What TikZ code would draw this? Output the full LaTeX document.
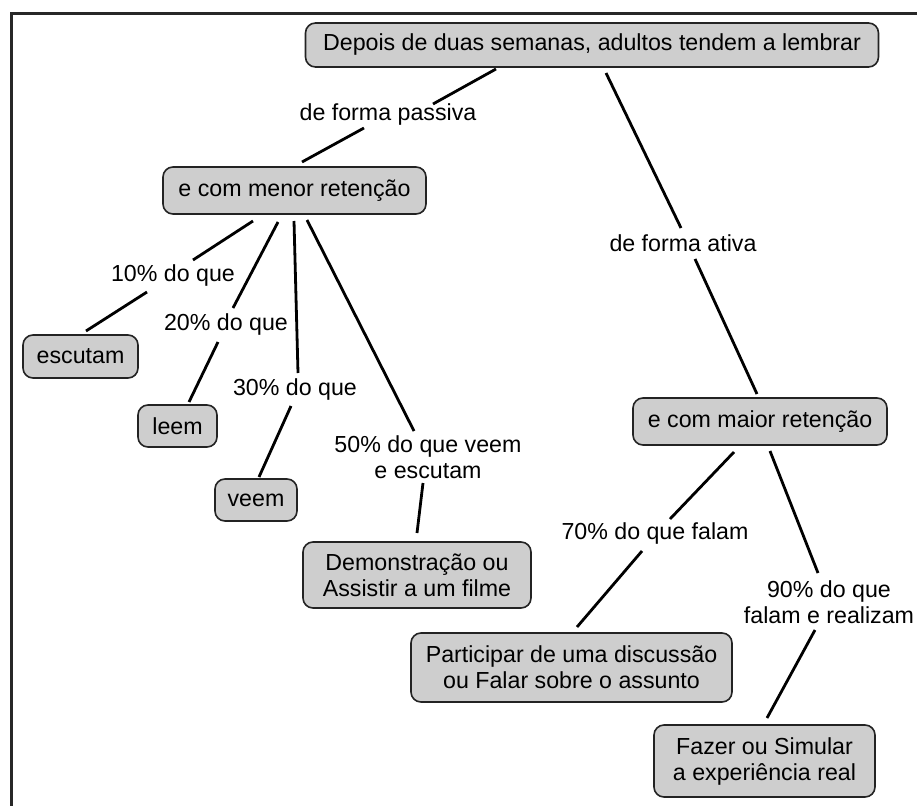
\documentclass[tikz,border=0pt]{standalone}
\usepackage{fontspec}
\setmainfont{Liberation Sans}
\usetikzlibrary{calc}
\definecolor{boxfill}{RGB}{206,206,206}
\definecolor{boxline}{RGB}{35,35,35}
\definecolor{framecol}{RGB}{40,40,40}
\newcommand\diagfont{\fontsize{23.2}{26}\selectfont}
\tikzset{
  box/.style={draw=boxline, line width=1.6pt, fill=boxfill, rounded corners=10pt,
    align=center, inner sep=0pt, font=\diagfont},
  lab/.style={align=center, inner sep=0pt, font=\diagfont},
  conn/.style={line width=2.8pt, black},
  frameline/.style={line width=3.2pt, framecol}
}
\begin{document}
\begin{tikzpicture}[x=1pt,y=-1pt]
\useasboundingbox (0,0) rectangle (917,805);
% frame
\coordinate (fbl) at (11.7,806);
\coordinate (ftl) at (11.7,13.3);
\coordinate (ftr) at (918,13.3);
\draw[frameline] (fbl) -- (ftl) -- (ftr);

% boxes
\node[box, minimum width=573pt, minimum height=44pt] (top) at (592,45) {Depois de duas semanas, adultos tendem a lembrar};
\node[box, minimum width=263pt, minimum height=47pt] (menor) at (294.5,190.5) {e com menor retenção};
\node[box, minimum width=254pt, minimum height=47pt] (maior) at (760,421.5) {e com maior retenção};
\node[box, minimum width=115pt, minimum height=43pt] (escutam) at (80.5,356.5) {escutam};
\node[box, minimum width=79pt, minimum height=42pt] (leem) at (177.5,426) {leem};
\node[box, minimum width=82pt, minimum height=42pt] (veem) at (256,500) {veem};
\node[box, minimum width=228pt, minimum height=66pt] (demo) at (417,575) {Demonstração ou\\Assistir a um filme};
\node[box, minimum width=321pt, minimum height=69pt] (part) at (571.5,667.5) {Participar de uma discussão\\ou Falar sobre o assunto};
\node[box, minimum width=221pt, minimum height=72pt] (fazer) at (764.5,761) {Fazer ou Simular\\a experiência real};

% labels
\node[lab] (passiva) at (388,115) {de forma passiva};
\node[lab] (ativa) at (683,243) {de forma ativa};
\node[lab] (p10) at (173,275) {10\% do que};
\node[lab] (p20) at (226,324) {20\% do que};
\node[lab] (p30) at (295,389) {30\% do que};
\node[lab] (p50) at (428,457) {50\% do que veem\\e escutam};
\node[lab] (p70) at (655,533) {70\% do que falam};
\node[lab] (p90) at (829,602) {90\% do que\\falam e realizam};

% connectors
\draw[conn] ($(top)+(-96,24)$) -- ($(passiva)+(45,-11)$);
\draw[conn] ($(passiva)+(-24,13)$) -- ($(menor)+(7.5,-28.5)$);
\draw[conn] ($(top)+(14,28)$) -- ($(ativa)+(-2,-15)$);
\draw[conn] ($(ativa)+(12,16)$) -- ($(maior)+(-3,-27.5)$);
\draw[conn] ($(menor)+(-41.5,30.5)$) -- ($(p10)+(20,-15)$);
\draw[conn] ($(p10)+(-26,17)$) -- ($(escutam)+(5.5,-25.5)$);
\draw[conn] ($(menor)+(-16.5,31.5)$) -- ($(p20)+(7,-16)$);
\draw[conn] ($(p20)+(-8,18)$) -- ($(leem)+(11.5,-24)$);
\draw[conn] ($(menor)+(-0.5,30.5)$) -- ($(p30)+(3,-16)$);
\draw[conn] ($(p30)+(-4,17)$) -- ($(veem)+(3,-23)$);
\draw[conn] ($(menor)+(12.5,29.5)$) -- ($(p50)+(-14,-26)$);
\draw[conn] ($(p50)+(-5,26)$) -- ($(demo)+(0,-42)$);
\draw[conn] ($(maior)+(-26,30.5)$) -- ($(p70)+(15,-14)$);
\draw[conn] ($(p70)+(-13,18)$) -- ($(part)+(5.5,-40.5)$);
\draw[conn] ($(maior)+(10,29.5)$) -- ($(p90)+(-11,-29)$);
\draw[conn] ($(p90)+(-14,28)$) -- ($(fazer)+(2.5,-43)$);
\end{tikzpicture}
\end{document}
